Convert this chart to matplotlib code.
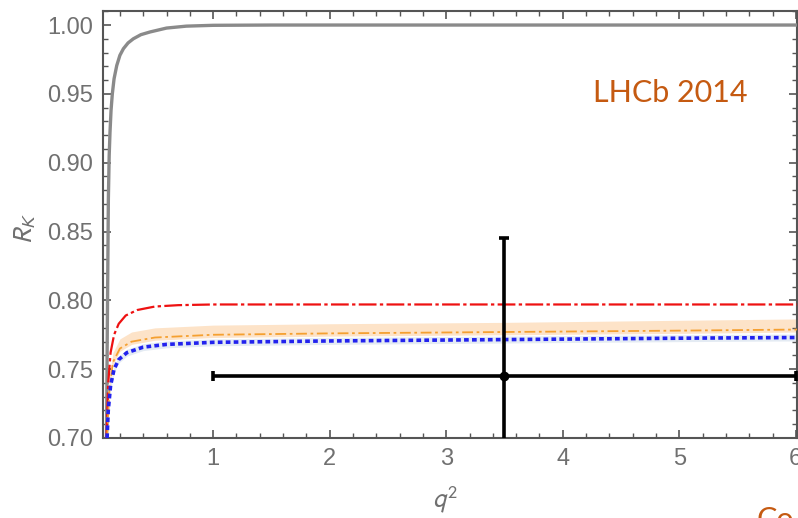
import matplotlib
matplotlib.use("Agg")
import matplotlib.pyplot as plt
from matplotlib.ticker import MultipleLocator, FixedLocator

# ---- data ----
gray_q = [0.085, 0.092, 0.101, 0.108, 0.115, 0.124, 0.135, 0.15, 0.173, 0.20, 0.23, 0.27,
          0.315, 0.38, 0.46, 0.60, 0.77, 1.0, 1.5, 6.02]
gray_r = [0.70, 0.78, 0.8735, 0.905, 0.922, 0.938, 0.95, 0.961, 0.9706, 0.978, 0.9828, 0.987,
          0.990, 0.993, 0.995, 0.9978, 0.9992, 0.9998, 1.0, 1.0]

red_q = [0.085, 0.10, 0.12, 0.15, 0.19, 0.25, 0.35, 0.5, 0.7, 1.0, 6.02]
red_r = [0.70, 0.74, 0.762, 0.775, 0.783, 0.789, 0.793, 0.7955, 0.7965, 0.797, 0.797]

blue_q = [0.09, 0.10, 0.12, 0.15, 0.19, 0.26, 0.4, 0.6, 1.0, 2.0, 3.5, 5.0, 6.02]
blue_r = [0.70, 0.72, 0.738, 0.750, 0.757, 0.762, 0.766, 0.768, 0.7695, 0.7705, 0.7715, 0.7725, 0.773]

orange_q = [0.09, 0.11, 0.14, 0.2, 0.3, 0.5, 1.0, 2.0, 3.5, 5.0, 6.02]
orange_r = [0.70, 0.735, 0.755, 0.765, 0.770, 0.773, 0.775, 0.776, 0.777, 0.778, 0.7788]
band_hi = [0.70, 0.745, 0.762, 0.772, 0.777, 0.780, 0.782, 0.783, 0.784, 0.7855, 0.7865]
band_lo = [0.70, 0.733, 0.753, 0.763, 0.768, 0.771, 0.773, 0.774, 0.775, 0.776, 0.777]

meas_q = [3.5]
meas_r = [0.745]
meas_qerr_lo = [2.5]
meas_qerr_hi = [2.5]
meas_rerr_lo = [0.082]
meas_rerr_hi = [0.100]

x_ticks = [1, 2, 3, 4, 5, 6]
y_ticks = [0.70, 0.75, 0.80, 0.85, 0.90, 0.95, 1.00]

# ---- figure ----
fig = plt.figure(figsize=(7.98, 5.18), dpi=100)
ax = fig.add_axes([103/798, 1-438/518, (797-103)/798, (438-11)/518])

tick_gray = "#707070"
frame_gray = "#555555"
font = "Liberation Sans"

ax.fill_between(orange_q, band_lo, band_hi, color="#fde3c8", lw=0, zorder=1)
ax.fill_between(blue_q, [v - 0.0025 for v in blue_r], [v + 0.0025 for v in blue_r],
                color="#e4ebf3", lw=0, zorder=1)
ax.plot(gray_q, gray_r, color="#8a8a8a", lw=2.4, zorder=3, solid_capstyle="round",
        solid_joinstyle="round")
ax.plot(red_q, red_r, color="#ee1111", lw=1.6, ls=(0, (8, 1.5, 1.5, 1.5)), zorder=3)
ax.plot(orange_q, orange_r, color="#f5a030", lw=1.3, ls=(0, (6, 2, 1.5, 2)), zorder=3)
ax.plot(blue_q, blue_r, color="#2222ee", lw=2.6, ls=(0, (1.3, 0.9)), zorder=3)

ax.errorbar(meas_q, meas_r,
            xerr=[meas_qerr_lo, meas_qerr_hi],
            yerr=[meas_rerr_lo, meas_rerr_hi],
            fmt="o", color="black", ms=6, elinewidth=2.6, capsize=3.5, capthick=2.6,
            zorder=5)

ax.set_xlim(0.055, 6.01)
ax.set_ylim(0.70, 1.0102)

ax.xaxis.set_major_locator(FixedLocator(x_ticks))
ax.yaxis.set_major_locator(FixedLocator(y_ticks))
ax.xaxis.set_minor_locator(MultipleLocator(0.2))
ax.yaxis.set_minor_locator(MultipleLocator(0.01))
ax.set_yticklabels([f"{v:.2f}" for v in y_ticks], family=font)
ax.set_xticklabels([str(v) for v in x_ticks], family=font)

ax.tick_params(which="both", direction="in", top=True, right=True,
               color=frame_gray, labelcolor=tick_gray, labelsize=17)
ax.tick_params(which="major", length=6, width=1.2, pad=7)
ax.tick_params(which="minor", length=3.5, width=1.0)
for s in ax.spines.values():
    s.set_color(frame_gray)
    s.set_linewidth(1.5)

fig.text(445/798, 1-500/518, r"$q^2$", color=tick_gray, fontsize=19,
         ha="center", va="center", math_fontfamily="stixsans")
fig.text(25/798, 1-228/518, r"$R_K$", color=tick_gray, fontsize=19, rotation=90,
         ha="center", va="center", math_fontfamily="stixsans")

fig.text(670/798, 1-93/518, "LHCb 2014", color="#c55a11", fontsize=22,
         family="Lato", ha="center", va="center")
fig.text(757/798, 1-506/518, "Co", color="#c55a11", fontsize=22, family="Lato",
         ha="left", va="top")

fig.savefig("out.png", dpi=100)
